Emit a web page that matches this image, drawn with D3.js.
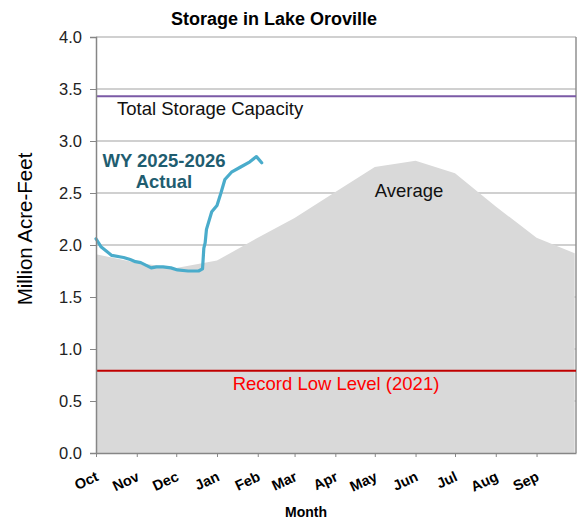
<!DOCTYPE html>
<html><head><meta charset="utf-8">
<script src="https://cdn.jsdelivr.net/npm/d3@7"></script>
<style>body{margin:0;background:#fff}svg{display:block;font-family:"Liberation Sans",Arial,sans-serif}</style>
</head><body><svg id="c" width="583" height="523"></svg>
<script>
const monthLabels = ["Oct","Nov","Dec","Jan","Feb","Mar","Apr","May","Jun","Jul","Aug","Sep"];
const yTicks = [0,0.5,1.0,1.5,2.0,2.5,3.0,3.5,4.0];
const avgDates = ["2025-10-01","2025-11-01","2025-12-01","2026-01-01","2026-02-01","2026-03-01","2026-04-01","2026-05-01","2026-06-01","2026-07-01","2026-08-01","2026-09-01","2026-09-30"];
const avgValues = [1.91,1.83,1.78,1.85,2.07,2.26,2.51,2.75,2.81,2.69,2.37,2.07,1.92];
const actualDates = ["2025-10-01","2025-10-05","2025-10-13","2025-10-22","2025-10-27","2025-10-31","2025-11-04","2025-11-12","2025-11-16","2025-11-21","2025-11-27","2025-12-02","2025-12-10","2025-12-18","2025-12-21","2025-12-22","2025-12-23","2025-12-24","2025-12-28","2026-01-01","2026-01-04","2026-01-07","2026-01-12","2026-01-19","2026-01-26","2026-01-31","2026-02-04"];
const actualValues = [2.06,1.98,1.90,1.88,1.86,1.84,1.83,1.78,1.79,1.79,1.78,1.76,1.75,1.75,1.77,1.97,2.02,2.15,2.32,2.38,2.50,2.63,2.70,2.75,2.80,2.85,2.79];
const capacity = 3.43;
const recordLow = 0.79;

const parse = d3.utcParse("%Y-%m-%d");
const svg = d3.select("#c");
const L = 96, R = 576, T = 37, B = 453;
const x = d3.scaleUtc().domain([parse("2025-10-01"), parse("2026-10-01")]).range([L, R]);
const y = d3.scaleLinear().domain([0, 4]).range([B, T]);

// gridlines
svg.append("g").selectAll("line").data(yTicks.filter(v=>v>0)).join("line")
  .attr("x1", L).attr("x2", R).attr("y1", d=>y(d)).attr("y2", d=>y(d))
  .attr("stroke", "#c0c0c0").attr("stroke-width", 1.5);

// average area
const avg = avgDates.map((d,i)=>({d:parse(d), v:avgValues[i]}));
svg.append("path").datum(avg)
  .attr("d", d3.area().x(p=>x(p.d)).y0(y(0)).y1(p=>y(p.v)))
  .attr("fill", "#d9d9d9");

// right border
svg.append("line").attr("x1", R).attr("x2", R).attr("y1", T).attr("y2", B)
  .attr("stroke", "#909090").attr("stroke-width", 1.5);

// capacity and record low
svg.append("line").attr("x1", L).attr("x2", R).attr("y1", y(capacity)).attr("y2", y(capacity))
  .attr("stroke", "#7b5aa6").attr("stroke-width", 2);
svg.append("line").attr("x1", L).attr("x2", R).attr("y1", y(recordLow)).attr("y2", y(recordLow))
  .attr("stroke", "#c00000").attr("stroke-width", 2);

// actual line
const act = actualDates.map((d,i)=>({d:parse(d), v:actualValues[i]}));
svg.append("path").datum(act)
  .attr("d", d3.line().x(p=>x(p.d)).y(p=>y(p.v)))
  .attr("fill", "none").attr("stroke", "#4aaccb").attr("stroke-width", 3.2)
  .attr("stroke-linejoin", "round").attr("stroke-linecap", "round");

// y axis
const ya = svg.append("g").attr("transform", `translate(${L},0)`)
  .call(d3.axisLeft(y).tickValues(yTicks).tickFormat(d3.format(".1f")).tickSize(6).tickPadding(8));
ya.select(".domain").attr("stroke", "#868686").attr("stroke-width", 1.5);
ya.selectAll(".tick line").attr("stroke", "#868686");
ya.selectAll("text").attr("font-size", 16.5).attr("fill", "#222").attr("font-family", "Liberation Sans, Arial, sans-serif");

// x axis
const monthDates = d3.utcMonth.range(parse("2025-10-01"), parse("2026-10-01"));
const xa = svg.append("g").attr("transform", `translate(0,${B})`)
  .call(d3.axisBottom(x).tickValues(monthDates).tickFormat((d,i)=>monthLabels[i]).tickSize(4).tickSizeOuter(0));
xa.select(".domain").attr("stroke", "#868686").attr("stroke-width", 1.5);
xa.selectAll(".tick line").attr("stroke", "#868686");
xa.selectAll("text").attr("font-size", 14.5).attr("font-weight", "bold").attr("fill", "#000")
  .attr("font-family", "Liberation Sans, Arial, sans-serif")
  .attr("text-anchor", "end").attr("dy", null).attr("y", 0)
  .attr("transform", "translate(3,27) rotate(-25)");

// titles
svg.append("text").attr("x", 274).attr("y", 25).attr("text-anchor", "middle")
  .attr("font-size", 18).attr("font-weight", "bold").attr("fill", "#000").text("Storage in Lake Oroville");
svg.append("text").attr("x", 306).attr("y", 517).attr("text-anchor", "middle")
  .attr("font-size", 14).attr("font-weight", "bold").attr("fill", "#000").text("Month");
svg.append("text").attr("transform", "translate(32,229) rotate(-90)").attr("text-anchor", "middle")
  .attr("font-size", 20.5).attr("fill", "#000").text("Million Acre-Feet");

// annotations
svg.append("text").attr("x", 117).attr("y", 115).attr("font-size", 18.5).attr("fill", "#111").text("Total Storage Capacity");
svg.append("text").attr("x", 409).attr("y", 197).attr("text-anchor", "middle").attr("font-size", 18.5).attr("fill", "#111").text("Average");
svg.append("text").attr("x", 336).attr("y", 390).attr("text-anchor", "middle").attr("font-size", 18.5).attr("fill", "#ff0000").text("Record Low Level (2021)");
svg.append("text").attr("x", 164).attr("y", 167).attr("text-anchor", "middle").attr("font-size", 18.5).attr("font-weight", "bold").attr("fill", "#1f5d70").text("WY 2025-2026");
svg.append("text").attr("x", 164).attr("y", 188).attr("text-anchor", "middle").attr("font-size", 18.5).attr("font-weight", "bold").attr("fill", "#1f5d70").text("Actual");
</script></body></html>
